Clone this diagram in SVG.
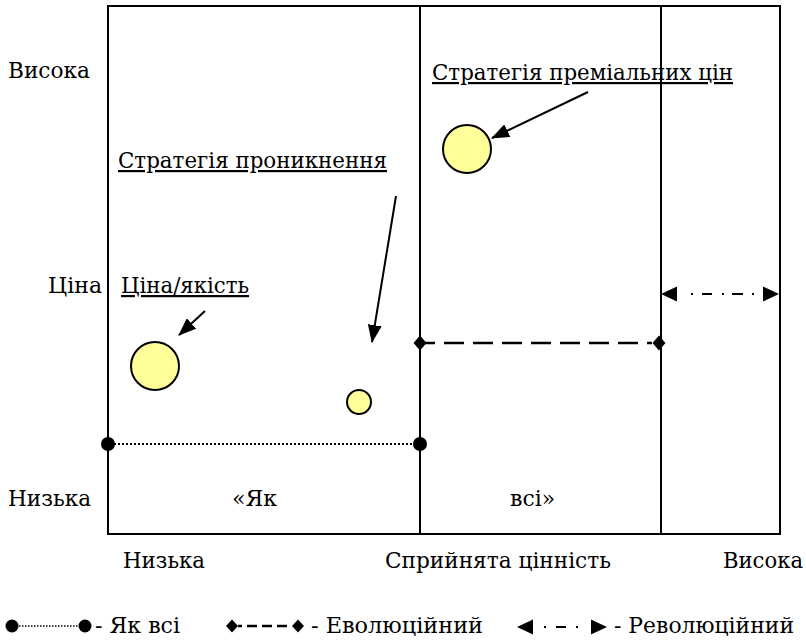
<svg xmlns="http://www.w3.org/2000/svg" width="806" height="640" viewBox="0 0 806 640">
<style>
text{font-family:'DejaVu Serif','Liberation Serif',serif;font-size:22px;fill:#000}
.u{text-decoration:underline}
.frame{stroke:#000;stroke-width:2;fill:none}
.bub{fill:#ffff99;stroke:#000;stroke-width:2}
.ar{stroke:#000;stroke-width:2;fill:none}
</style>
<defs>
<marker id="ah2" markerWidth="18" markerHeight="14" refX="17" refY="7" orient="auto" markerUnits="userSpaceOnUse" viewBox="0 0 18 14"><path d="M0,0 L18,7 L0,14 z" fill="#000"/></marker>
</defs>
<g id="frame">
<rect class="frame" x="108" y="6" width="672" height="528"/>
<line class="frame" x1="420" y1="6" x2="420" y2="534"/>
<line class="frame" x1="661" y1="6" x2="661" y2="534"/>
</g>
<g id="axis-labels">
<text x="8" y="78" textLength="82" lengthAdjust="spacingAndGlyphs">Висока</text>
<text x="48" y="293">Ціна</text>
<text x="8" y="506" textLength="83" lengthAdjust="spacingAndGlyphs">Низька</text>
<text x="123" y="568" textLength="82" lengthAdjust="spacingAndGlyphs">Низька</text>
<text x="385" y="568" textLength="226" lengthAdjust="spacingAndGlyphs">Сприйнята цінність</text>
<text x="723" y="568" textLength="80" lengthAdjust="spacingAndGlyphs">Висока</text>
<text x="232" y="506">«Як</text>
<text x="510" y="506">всі»</text>
</g>
<g id="premium">
<text class="u" x="432" y="80" textLength="301" lengthAdjust="spacingAndGlyphs">Стратегія преміальних цін</text>
<circle class="bub" cx="467" cy="149" r="24"/>
</g>
<g id="penetration">
<text class="u" x="118" y="168" textLength="269" lengthAdjust="spacingAndGlyphs">Стратегія проникнення</text>
<circle class="bub" cx="359" cy="402" r="12"/>
</g>
<g id="price-quality">
<text class="u" x="121" y="293" textLength="128" lengthAdjust="spacingAndGlyphs">Ціна/якість</text>
<circle class="bub" cx="155" cy="366" r="24"/>
</g>
<g id="connectors">
<line class="ar" x1="588" y1="92" x2="492" y2="138" marker-end="url(#ah2)"/>
<line class="ar" x1="396" y1="196" x2="372" y2="342" marker-end="url(#ah2)"/>
<line class="ar" x1="205" y1="311" x2="179" y2="335" marker-end="url(#ah2)"/>
<line stroke="#000" stroke-width="2" stroke-dasharray="2,2" x1="114" y1="444" x2="414" y2="444"/>
<circle cx="108" cy="444" r="7"/>
<circle cx="420" cy="444" r="7"/>
<line stroke="#000" stroke-width="2.7" stroke-dasharray="20,9" stroke-dashoffset="5" x1="420" y1="343" x2="652" y2="343"/>
<path d="M420,335.5 L426.5,343 L420,350.5 L413.5,343 z"/>
<path d="M659,335.5 L665.5,343 L659,350.5 L652.5,343 z"/>
<line stroke="#000" stroke-width="2" stroke-dasharray="0,15,2,9,10,10,2,8,11,9,2,8" x1="676" y1="294" x2="762" y2="294"/>
<path d="M661,294 L677,286.5 L677,301.5 z"/>
<path d="M779,294 L763,286.5 L763,301.5 z"/>
</g>
<g id="legend">
<circle cx="12" cy="626" r="6.5"/>
<circle cx="85" cy="626" r="6.5"/>
<line stroke="#000" stroke-width="1.5" stroke-dasharray="1.5,1.5" x1="19" y1="626" x2="78" y2="626"/>
<text x="95" y="633" textLength="85" lengthAdjust="spacingAndGlyphs">- Як всі</text>
<path d="M232,619.5 L238,626 L232,632.5 L226,626 z"/>
<path d="M298,619.5 L304,626 L298,632.5 L292,626 z"/>
<line stroke="#000" stroke-width="2.5" stroke-dasharray="4,5,10,5,10,5,10,5" x1="238" y1="626" x2="292" y2="626"/>
<text x="311" y="633" textLength="172" lengthAdjust="spacingAndGlyphs">- Еволюційний</text>
<path d="M517,627 L533,619.5 L533,634.5 z"/>
<line stroke="#000" stroke-width="2" stroke-dasharray="0,11,2,10,10,10,2,10" x1="533" y1="627" x2="592" y2="627"/>
<path d="M607,627 L591,619.5 L591,634.5 z"/>
<text x="614" y="633" textLength="180" lengthAdjust="spacingAndGlyphs">- Революційний</text>
</g>
</svg>
